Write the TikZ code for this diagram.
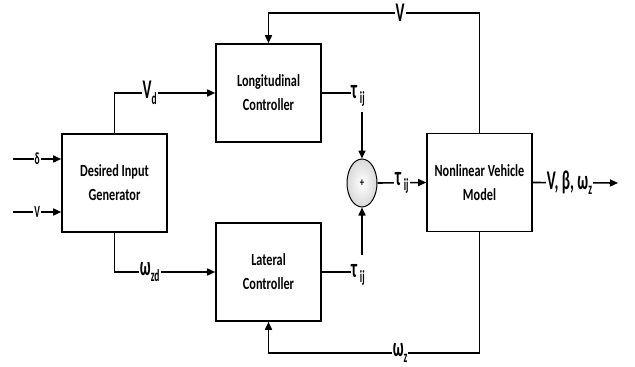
\documentclass[tikz,border=0pt]{standalone}
\usepackage{fontspec}
\setmainfont{Carlito}[FakeStretch=0.72]
\newfontfamily\labfont{Carlito}[FakeStretch=0.56]
\usetikzlibrary{arrows.meta,shapes.geometric}
\newcommand\lsub[1]{\raisebox{-0.2em}{\fontsize{17}{17}\selectfont #1}}
\tikzset{
  block/.style={draw, line width=1.6pt, minimum width=105pt, minimum height=98pt, align=center,
    font=\bfseries\fontsize{17}{24}\selectfont, inner sep=2pt},
  lab/.style={fill=white, inner sep=1pt, font=\labfont\bfseries\fontsize{27}{27}\selectfont},
  slab/.style={fill=white, inner sep=1pt, font=\labfont\bfseries\fontsize{17}{17}\selectfont},
  wire/.style={line width=1.6pt},
}
\begin{document}
\begin{tikzpicture}[x=1pt,y=-1pt, >={Triangle[length=8pt,width=7pt]}]
\useasboundingbox (0,0) rectangle (635,367);
\node[block] (dig) at (114.5,183) {Desired Input\\Generator};
\node[block] (lon) at (268.5,93) {Longitudinal\\Controller};
\node[block] (lat) at (268.5,272) {Lateral\\Controller};
\node[block] (nvm) at (479.5,182.5) {Nonlinear Vehicle\\Model};
\node[ellipse, draw, line width=1pt, minimum width=30pt, minimum height=48pt, inner sep=0pt,
  inner color=white, outer color=gray!30, font=\bfseries\fontsize{12}{12}\selectfont] (sum) at (362,183) {+};
% inputs
\coordinate (din) at (13,159);
\coordinate (vin) at (13,212);
\draw[wire,->] (din) -- node[slab]{δ} (dig.west |- din);
\draw[wire,->] (vin) -- node[slab]{V} (dig.west |- vin);
% desired outputs
\draw[wire,->] (dig.north) |- node[lab,pos=0.675]{V\lsub{d}} (lon.west);
\draw[wire,->] (dig.south) |- node[lab,pos=0.675]{ω\lsub{zd}} (lat.west);
% controller outputs
\node[lab, anchor=west, inner sep=0pt] (t1) at (351,96) {τ\lsub{\,ij}};
\node[lab, anchor=west, inner sep=0pt] (t2) at (351,275) {τ\lsub{\,ij}};
\draw[wire] (lon.east) -- (lon.east -| t1.west);
\draw[wire] (lat.east) -- (lat.east -| t2.west);
\coordinate (t1d) at (362,112);
\coordinate (t2u) at (362,255);
\draw[wire,->] (t1d) -- (sum.north);
\draw[wire,->] (t2u) -- (sum.south);
% sum to plant
\draw[wire,->] (sum.east) -- node[lab]{τ\lsub{\,ij}} (nvm.west);
% output
\coordinate (out) at (618,183);
\draw[wire,->] (nvm.east) -- node[lab,pos=0.43]{V, β, ω\lsub{z}} (out);
% feedback
\coordinate (vtop) at (479.5,13);
\coordinate (vbot) at (479.5,353);
\draw[wire,->] (nvm.north) -- (vtop) -| node[lab,pos=0.188]{V} (lon.north);
\draw[wire,->] (nvm.south) -- (vbot) -| node[lab,pos=0.188]{ω\lsub{z}} (lat.south);
\end{tikzpicture}
\end{document}
